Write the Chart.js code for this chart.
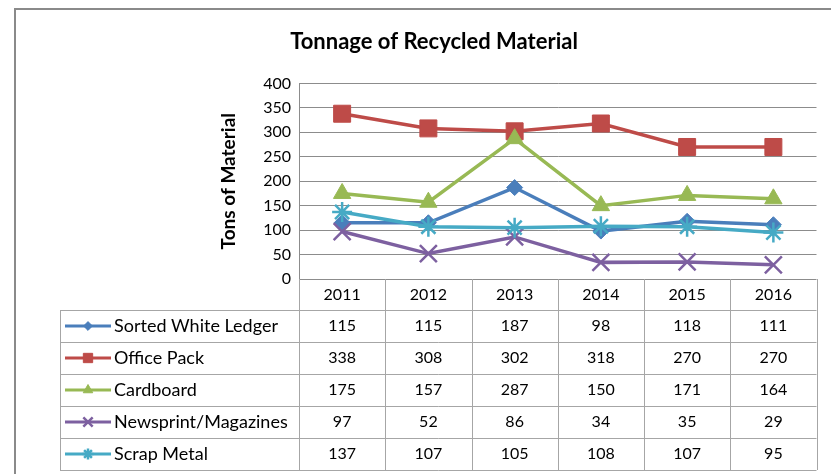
<!DOCTYPE html>
<html>
<head>
<meta charset="utf-8">
<script src="https://cdn.jsdelivr.net/npm/chart.js@4.4.0/dist/chart.umd.min.js"></script>
<style>
  body { margin: 0; background: #fff; }
  #wrap { position: relative; width: 831px; height: 474px; overflow: hidden; }
  #frame { position: absolute; left: 14px; top: 8px; width: 900px; height: 600px;
           border-left: 2px solid #8a8a8a; border-top: 2px solid #8a8a8a; }
  canvas { position: absolute; left: 0; top: 0; }
</style>
</head>
<body>
<div id="wrap">
  <div id="frame"></div>
  <canvas id="chart" width="831" height="474"></canvas>
</div>
<script>
const years = ['2011', '2012', '2013', '2014', '2015', '2016'];
const seriesNames = ['Sorted White Ledger', 'Office Pack', 'Cardboard', 'Newsprint/Magazines', 'Scrap Metal'];
const sortedWhiteLedger = [115, 115, 187, 98, 118, 111];
const officePack = [338, 308, 302, 318, 270, 270];
const cardboard = [175, 157, 287, 150, 171, 164];
const newsprint = [97, 52, 86, 34, 35, 29];
const scrapMetal = [137, 107, 105, 108, 107, 95];
const yTicks = [0, 50, 100, 150, 200, 250, 300, 350, 400];

const FONT = 'Lato, "Open Sans", sans-serif';
const colors = ['#4A7EBB', '#BE4B48', '#98B954', '#7D60A0', '#46AAC5'];
const markers = [
  { style: 'rectRot', radius: 8, border: 1 },
  { style: 'rect', radius: 12, border: 1 },
  { style: 'triangle', radius: 10, border: 1 },
  { style: 'crossRot', radius: 12, border: 2.5 },
  { style: 'star', radius: 10, border: 2.5 }
];
const allValues = [sortedWhiteLedger, officePack, cardboard, newsprint, scrapMetal];

// table under the plot (data table like in Excel)
const TABLE_LEFT = 60;
const HEADER_BOTTOM = 310;
const ROW_H = 32;
const PAD_LEFT = 42;

const dataTable = {
  id: 'dataTable',
  afterDraw(chart) {
    const ctx = chart.ctx;
    const x = chart.scales.x;
    const area = chart.chartArea;
    const colW = x.getPixelForValue(1) - x.getPixelForValue(0);
    const tableBottom = HEADER_BOTTOM + ROW_H * seriesNames.length;

    ctx.save();
    ctx.strokeStyle = '#a6a6a6';
    ctx.lineWidth = 1;
    ctx.beginPath();
    // column separators
    for (let i = 0; i <= years.length; i++) {
      const px = Math.round(x.getPixelForValue(i) - colW / 2) + 0.5;
      ctx.moveTo(px, area.bottom);
      ctx.lineTo(px, tableBottom);
    }
    // left border of the legend column
    ctx.moveTo(TABLE_LEFT + 0.5, HEADER_BOTTOM);
    ctx.lineTo(TABLE_LEFT + 0.5, tableBottom);
    // row lines
    for (let r = 0; r <= seriesNames.length; r++) {
      const py = HEADER_BOTTOM + r * ROW_H + 0.5;
      ctx.moveTo(TABLE_LEFT, py);
      ctx.lineTo(area.right, py);
    }
    ctx.stroke();

    ctx.textBaseline = 'middle';
    seriesNames.forEach((name, r) => {
      const cy = HEADER_BOTTOM + ROW_H * (r + 0.5);
      // legend swatch
      ctx.strokeStyle = colors[r];
      ctx.lineWidth = 3;
      ctx.beginPath();
      ctx.moveTo(65, cy);
      ctx.lineTo(111, cy);
      ctx.stroke();
      ctx.fillStyle = colors[r];
      ctx.strokeStyle = colors[r];
      ctx.lineWidth = markers[r].border;
      Chart.helpers.drawPoint(ctx, {
        pointStyle: markers[r].style,
        radius: markers[r].radius * 0.55,
        rotation: 0,
        borderWidth: markers[r].border
      }, 88, cy);

      ctx.fillStyle = '#000';
      ctx.textAlign = 'left';
      ctx.font = '18px ' + FONT;
      ctx.fillText(name, 114, cy);
      ctx.textAlign = 'center';
      ctx.font = '16px ' + FONT;
      allValues[r].forEach((v, i) => {
        ctx.fillText(String(v), x.getPixelForValue(i), cy);
      });
    });
    ctx.restore();
  }
};

const datasets = seriesNames.map((name, i) => ({
  label: name,
  data: allValues[i],
  borderColor: colors[i],
  backgroundColor: colors[i],
  borderWidth: 3.5,
  pointStyle: markers[i].style,
  pointRadius: markers[i].radius,
  pointBorderWidth: markers[i].border,
  pointBackgroundColor: colors[i],
  pointBorderColor: colors[i],
  tension: 0,
  order: seriesNames.length - i
}));

new Chart(document.getElementById('chart'), {
  type: 'line',
  data: { labels: years, datasets: datasets },
  options: {
    responsive: false,
    animation: false,
    layout: { padding: { left: PAD_LEFT, right: 5, top: 0, bottom: 0 } },
    plugins: {
      legend: { display: false },
      tooltip: { enabled: false },
      title: {
        display: true,
        text: 'Tonnage of Recycled Material',
        color: '#000',
        font: { family: FONT, size: 22, weight: 'bold' },
        padding: { top: 29, bottom: 28 }
      }
    },
    scales: {
      x: {
        type: 'category',
        offset: true,
        grid: { display: false, drawTicks: false },
        border: { display: false },
        ticks: { color: '#000', font: { family: FONT, size: 16 }, padding: 6, maxRotation: 0 },
        afterFit(scale) { scale.height = 474 - 279; }
      },
      y: {
        min: 0,
        max: 400,
        afterBuildTicks(scale) { scale.ticks = yTicks.map(v => ({ value: v })); },
        grid: { color: '#8c8c8c', lineWidth: 1, drawTicks: false },
        border: { display: true, color: '#8c8c8c', width: 1 },
        ticks: { color: '#000', font: { family: FONT, size: 16 }, padding: 8 },
        title: {
          display: true,
          text: 'Tons of Material',
          color: '#000',
          font: { family: FONT, size: 19, weight: 'bold' },
          padding: { top: 217 - PAD_LEFT, bottom: 0 }
        },
        afterFit(scale) { scale.width = 299 - PAD_LEFT; }
      }
    }
  },
  plugins: [dataTable]
});
</script>
</body>
</html>
